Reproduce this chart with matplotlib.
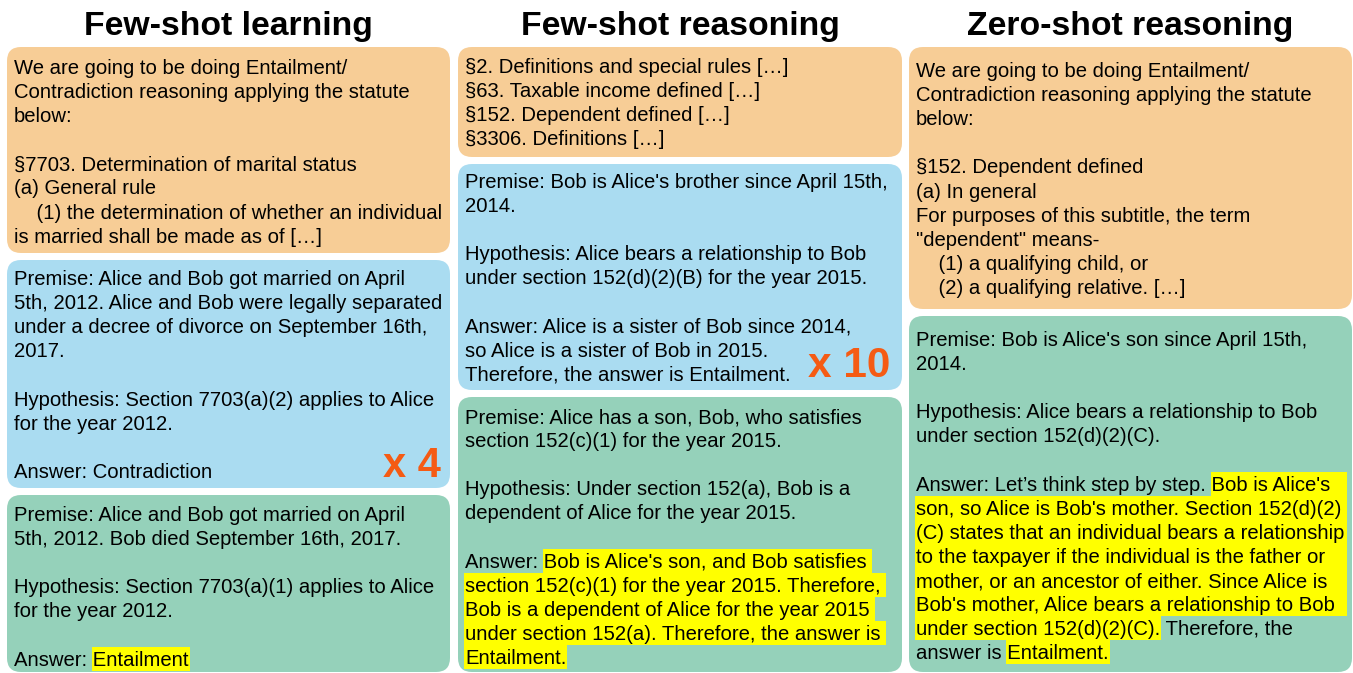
import matplotlib
matplotlib.use("Agg")
import matplotlib.pyplot as plt
from matplotlib.patches import FancyBboxPatch, Rectangle

# ---------------- data ----------------
titles = ["Few-shot learning", "Few-shot reasoning", "Zero-shot reasoning"]

c1_statute = [
    "We are going to be doing Entailment/",
    "Contradiction reasoning applying the statute",
    "below:",
    "",
    "§7703. Determination of marital status",
    "(a) General rule",
    "    (1) the determination of whether an individual",
    "is married shall be made as of […]",
]
c1_example = [
    "Premise: Alice and Bob got married on April",
    "5th, 2012. Alice and Bob were legally separated",
    "under a decree of divorce on September 16th,",
    "2017.",
    "",
    "Hypothesis: Section 7703(a)(2) applies to Alice",
    "for the year 2012.",
    "",
    "Answer: Contradiction",
]
c1_query = [
    "Premise: Alice and Bob got married on April",
    "5th, 2012. Bob died September 16th, 2017.",
    "",
    "Hypothesis: Section 7703(a)(1) applies to Alice",
    "for the year 2012.",
    "",
    "Answer: Entailment",
]
c1_highlights = [(6, 8, None)]

c2_statute = [
    "§2. Definitions and special rules […]",
    "§63. Taxable income defined […]",
    "§152. Dependent defined […]",
    "§3306. Definitions […]",
]
c2_example = [
    "Premise: Bob is Alice's brother since April 15th,",
    "2014.",
    "",
    "Hypothesis: Alice bears a relationship to Bob",
    "under section 152(d)(2)(B) for the year 2015.",
    "",
    "Answer: Alice is a sister of Bob since 2014,",
    "so Alice is a sister of Bob in 2015.",
    "Therefore, the answer is Entailment.",
]
c2_query = [
    "Premise: Alice has a son, Bob, who satisfies",
    "section 152(c)(1) for the year 2015.",
    "",
    "Hypothesis: Under section 152(a), Bob is a",
    "dependent of Alice for the year 2015.",
    "",
    "Answer: Bob is Alice's son, and Bob satisfies",
    "section 152(c)(1) for the year 2015. Therefore,",
    "Bob is a dependent of Alice for the year 2015",
    "under section 152(a). Therefore, the answer is",
    "Entailment.",
]
c2_highlights = [(6, 8, None), (7, 0, None), (8, 0, None), (9, 0, None), (10, 0, None)]

c3_statute = [
    "We are going to be doing Entailment/",
    "Contradiction reasoning applying the statute",
    "below:",
    "",
    "§152. Dependent defined",
    "(a) In general",
    "For purposes of this subtitle, the term",
    "\"dependent\" means-",
    "    (1) a qualifying child, or",
    "    (2) a qualifying relative. […]",
]
c3_query = [
    "Premise: Bob is Alice's son since April 15th,",
    "2014.",
    "",
    "Hypothesis: Alice bears a relationship to Bob",
    "under section 152(d)(2)(C).",
    "",
    "Answer: Let’s think step by step. Bob is Alice's",
    "son, so Alice is Bob's mother. Section 152(d)(2)",
    "(C) states that an individual bears a relationship",
    "to the taxpayer if the individual is the father or",
    "mother, or an ancestor of either. Since Alice is",
    "Bob's mother, Alice bears a relationship to Bob",
    "under section 152(d)(2)(C). Therefore, the",
    "answer is Entailment.",
]
c3_highlights = [(6, 34, None), (7, 0, None), (8, 0, None), (9, 0, None),
                 (10, 0, None), (11, 0, None), (12, 0, 27), (13, 10, None)]

multipliers = ["x 4", "x 10"]

# ---------------- style ----------------
ORANGE = "#F7CD96"
BLUE = "#AADCF1"
GREEN = "#95D1BA"
YELLOW = "#FFFF00"
RED = "#F55B14"
FAM = ["Liberation Sans", "DejaVu Sans"]
FS = 14.6
LS = 24.1

W, H = 1353, 673
fig = plt.figure(figsize=(W / 100, H / 100), dpi=100)
ax = fig.add_axes([0, 0, 1, 1])
ax.set_xlim(0, W)
ax.set_ylim(H, 0)
ax.axis("off")
renderer = fig.canvas.get_renderer()


def tw(s):
    if not s:
        return 0.0
    t = ax.text(0, 0, s, fontsize=FS, family=FAM)
    w = t.get_window_extent(renderer).width
    t.remove()
    return w


space_w = tw("a a") - tw("aa")

cols = [(7, 450, 14), (458, 902, 465), (909, 1352, 916)]

# (col, top, bottom, color, first line center, lines, highlights, extend_full)
boxes = [
    (0, 47, 253, ORANGE, 67, c1_statute, [], False),
    (0, 260, 488, BLUE, 278, c1_example, [], False),
    (0, 495, 672, GREEN, 514, c1_query, c1_highlights, False),
    (1, 47, 157, ORANGE, 66, c2_statute, [], False),
    (1, 164, 390, BLUE, 181, c2_example, [], False),
    (1, 397, 672, GREEN, 416, c2_query, c2_highlights, False),
    (2, 47, 309, ORANGE, 70, c3_statute, [], False),
    (2, 316, 672, GREEN, 339, c3_query, c3_highlights, True),
]

for ci, title in enumerate(titles):
    x0, x1, _ = cols[ci]
    ax.text((x0 + x1) / 2, 35, title, fontsize=24.3, fontweight="bold",
            family=FAM, ha="center", va="baseline", color="black")

for col, top, bot, color, yc0, lines, hls, ext in boxes:
    x0, x1, tx = cols[col]
    ax.add_patch(FancyBboxPatch((x0, top), x1 - x0, bot - top,
                                boxstyle="round,pad=0,rounding_size=14",
                                fc=color, ec="none", zorder=1))
    for li, ln in enumerate(lines):
        yc = yc0 + li * LS
        if ln:
            ax.text(tx, yc + 7, ln, fontsize=FS, family=FAM, ha="left",
                    va="baseline", color="black", zorder=3)
    for li, s, e in hls:
        ln = lines[li]
        yc = yc0 + li * LS
        full_w = tw(ln)
        if e is None:
            hx0 = tx + full_w - tw(ln[s:]) - 1
            hx1 = tx + full_w + 1
            if li + 1 < len(lines) and any(h[0] == li + 1 for h in hls):
                hx1 = (x1 - 5) if ext else tx + full_w + space_w
        else:
            hx0 = tx - 1
            hx1 = tx + tw(ln[:e]) + 1
        ax.add_patch(Rectangle((hx0, yc - 12), hx1 - hx0, LS,
                               fc=YELLOW, ec="none", zorder=2))

ax.text(383, 477, multipliers[0], fontsize=30, fontweight="bold", family=FAM,
        color=RED, ha="left", va="baseline", zorder=4)
ax.text(808, 377, multipliers[1], fontsize=30.5, fontweight="bold", family=FAM,
        color=RED, ha="left", va="baseline", zorder=4)

fig.savefig("out.png", dpi=100, facecolor="white")
